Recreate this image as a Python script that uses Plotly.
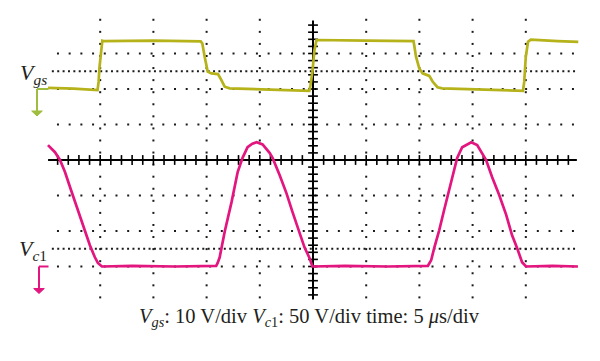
import numpy as np
import plotly.graph_objects as go

# ---------------- data ----------------
# Channel 1: gate-source voltage Vgs (time in microseconds, value in volts)
vgs_t = [0.1, 2.5, 4.75, 4.85, 4.93, 5.0, 5.1, 5.2, 5.3, 10.0, 14.45,
         14.6, 14.82, 14.98, 15.10, 15.45, 16.07, 16.39, 16.70, 17.17, 20.0, 24.65,
         24.76, 24.95, 25.14, 25.33, 30.0, 34.45,
         34.68, 34.99, 35.30, 35.93, 36.24, 36.70, 37.14, 40.0, 44.74,
         44.85, 45.0, 45.21, 45.47, 48.0, 49.93]
vgs_v = [0.3, 0.1, -0.3, 2.0, 6.0, 8.5, 12.0, 13.6, 13.5, 13.6, 13.4,
         12.8, 9.1, 6.3, 4.9, 4.4, 4.2, 2.5, 0.65, 0.2, 0.0, -0.5,
         1.0, 5.0, 11.0, 13.8, 13.6, 13.5,
         9.1, 5.8, 4.4, 3.7, 2.1, 0.5, 0.2, 0.0, -0.5,
         2.0, 9.1, 13.3, 13.9, 13.5, 13.3]

# Channel 2: capacitor voltage Vc1 (time in microseconds, value in volts)
vc1_t = [0.09, 0.75, 1.22, 1.69, 2.16, 2.63, 3.10, 3.56, 4.03, 4.50, 4.78, 5.16,
         8.0, 12.0, 15.9,
         16.04, 16.23, 16.70, 17.35, 17.92, 18.38, 18.85, 19.3, 19.70, 20.26, 20.92,
         21.20, 21.86, 22.51, 23.07, 23.73, 24.20, 24.67, 24.95,
         28.0, 32.0, 35.8,
         35.93, 36.11, 36.39, 36.86, 37.33, 37.80, 38.27, 38.55, 39.02, 39.87, 40.43,
         40.90, 41.27, 41.83, 42.49, 43.15, 43.71, 44.18, 44.65, 45.02,
         47.5, 49.9]
vc1_v = [171, 161, 150, 133, 112, 91, 70, 49, 30, 13, 5, 0,
         1, 0, 1,
         5, 13, 49, 91, 133, 153, 168, 173, 175, 172, 160,
         153, 129, 103, 77, 49, 27, 12, 0,
         1, 0, 1,
         5, 9, 26, 51, 80, 108, 139, 153, 168, 175, 171,
         160, 150, 126, 101, 73, 44, 26, 6, 0,
         1, 0]

# scope settings
T_RANGE = [0, 50]          # 5 us/div, 10 divisions
DIV_RANGE = [-4, 4]        # 8 vertical divisions
VGS_RANGE = [-60, 20]      # 10 V/div, ground 2 div above centre
VC1_RANGE = [-50, 350]     # 50 V/div, ground 3 div below centre

VGS_COLOR = "#b5b21a"
VGS_MARK = "#9fbd3e"
VC1_COLOR = "#e3157f"

# plot geometry
L, R, T, B = 47, 21, 18, 59
W, H = 600, 361
PW, PH = W - L - R, H - T - B


def px_x(px):
    return (px - L) / PW


def frac(v, rng):
    return (v - rng[0]) / (rng[1] - rng[0])


fig = go.Figure()

# ---------------- dotted graticule ----------------
gx, gy = [], []
row_t = 1.03 + 1.1 * np.arange(45)
for r in [-3, -2, -1, 1, 2, 3]:
    gx += list(row_t)
    gy += [r] * len(row_t)
col_y = 3.95 - 0.34 * np.arange(24)
for c in [5, 10, 15, 20, 30, 35, 40, 45]:
    gx += [c] * len(col_y)
    gy += list(col_y)
dense_t = np.arange(0.55, 49.9, 0.505)
for r in [2.5, -2.5]:
    gx += list(dense_t)
    gy += [r] * len(dense_t)
fig.add_trace(go.Scatter(x=gx, y=gy, mode="markers", hoverinfo="skip",
                         marker=dict(symbol="square", size=2, color="#1a1a1a",
                                     line=dict(width=0))))

# centre axis tick marks
tx = np.arange(1, 50, 1)
fig.add_trace(go.Scatter(x=tx, y=[0] * len(tx), mode="markers", hoverinfo="skip",
                         marker=dict(symbol="line-ns-open", size=7, color="black",
                                     line=dict(width=1.6, color="black"))))
ty = np.round(np.arange(-3.8, 3.81, 0.2), 2)
fig.add_trace(go.Scatter(x=[25] * len(ty), y=ty, mode="markers", hoverinfo="skip",
                         marker=dict(symbol="line-ew-open", size=7, color="black",
                                     line=dict(width=1.6, color="black"))))

# ---------------- traces ----------------
fig.add_trace(go.Scatter(x=vgs_t, y=vgs_v, yaxis="y2", mode="lines",
                         line=dict(color=VGS_COLOR, width=2.7), name="Vgs"))
fig.add_trace(go.Scatter(x=vc1_t, y=vc1_v, yaxis="y3", mode="lines",
                         line=dict(color=VC1_COLOR, width=2.7), name="Vc1"))

shapes = [
    dict(type="line", xref="x", yref="y", x0=0.1, x1=49.8, y0=0, y1=0,
         line=dict(color="black", width=2), layer="below"),
    dict(type="line", xref="x", yref="y", x0=25, x1=25, y0=-3.93, y1=3.93,
         line=dict(color="black", width=2), layer="below"),
]

# ground markers
def ground_marker(yfrac, xc, color):
    drop = 22 / PH
    tri_h = 5 / PH
    xl, xr = px_x(xc - 5.3), px_x(xc + 5.3)
    xm = px_x(xc)
    return [
        dict(type="line", xref="paper", yref="paper", x0=xm, x1=px_x(48.5),
             y0=yfrac, y1=yfrac, line=dict(color=color, width=2)),
        dict(type="line", xref="paper", yref="paper", x0=xm, x1=xm,
             y0=yfrac, y1=yfrac - drop, line=dict(color=color, width=2)),
        dict(type="path", xref="paper", yref="paper",
             path=f"M {xl} {yfrac - drop} L {xr} {yfrac - drop} L {xm} {yfrac - drop - tri_h} Z",
             fillcolor=color, line=dict(color=color, width=1)),
    ]

shapes += ground_marker(frac(0, VGS_RANGE), 37, VGS_MARK)
shapes += ground_marker(frac(0, VC1_RANGE), 39, VC1_COLOR)

serif = "Liberation Serif"
annotations = [
    dict(xref="paper", yref="paper", x=px_x(49), y=(H - B - 74) / PH,
         xanchor="right", yanchor="middle", showarrow=False,
         text="<i>V</i><sub><i>gs</i></sub>",
         font=dict(family=serif, size=22, color="#231f20")),
    dict(xref="paper", yref="paper", x=px_x(49), y=(H - B - 250) / PH,
         xanchor="right", yanchor="middle", showarrow=False,
         text="<i>V</i><sub><i>c</i>1</sub>",
         font=dict(family=serif, size=22, color="#231f20")),
    dict(xref="paper", yref="paper", x=px_x(309), y=(H - B - 317) / PH,
         xanchor="center", yanchor="middle", showarrow=False,
         text="<i>V</i><sub><i>gs</i></sub>: 10 V/div <i>V</i><sub><i>c</i>1</sub>: 50 V/div time: 5 <i>μ</i>s/div",
         font=dict(family=serif, size=20.5, color="#231f20")),
]

fig.update_layout(
    width=W, height=H, margin=dict(l=L, r=R, t=T, b=B),
    paper_bgcolor="white", plot_bgcolor="white", showlegend=False,
    xaxis=dict(range=T_RANGE, visible=False),
    yaxis=dict(range=DIV_RANGE, visible=False),
    yaxis2=dict(range=VGS_RANGE, overlaying="y", visible=False),
    yaxis3=dict(range=VC1_RANGE, overlaying="y", visible=False),
    shapes=shapes, annotations=annotations,
)

fig.write_html("out.html", config={"displayModeBar": False},
               post_script="document.body.style.margin='0';document.body.style.padding='0';")
